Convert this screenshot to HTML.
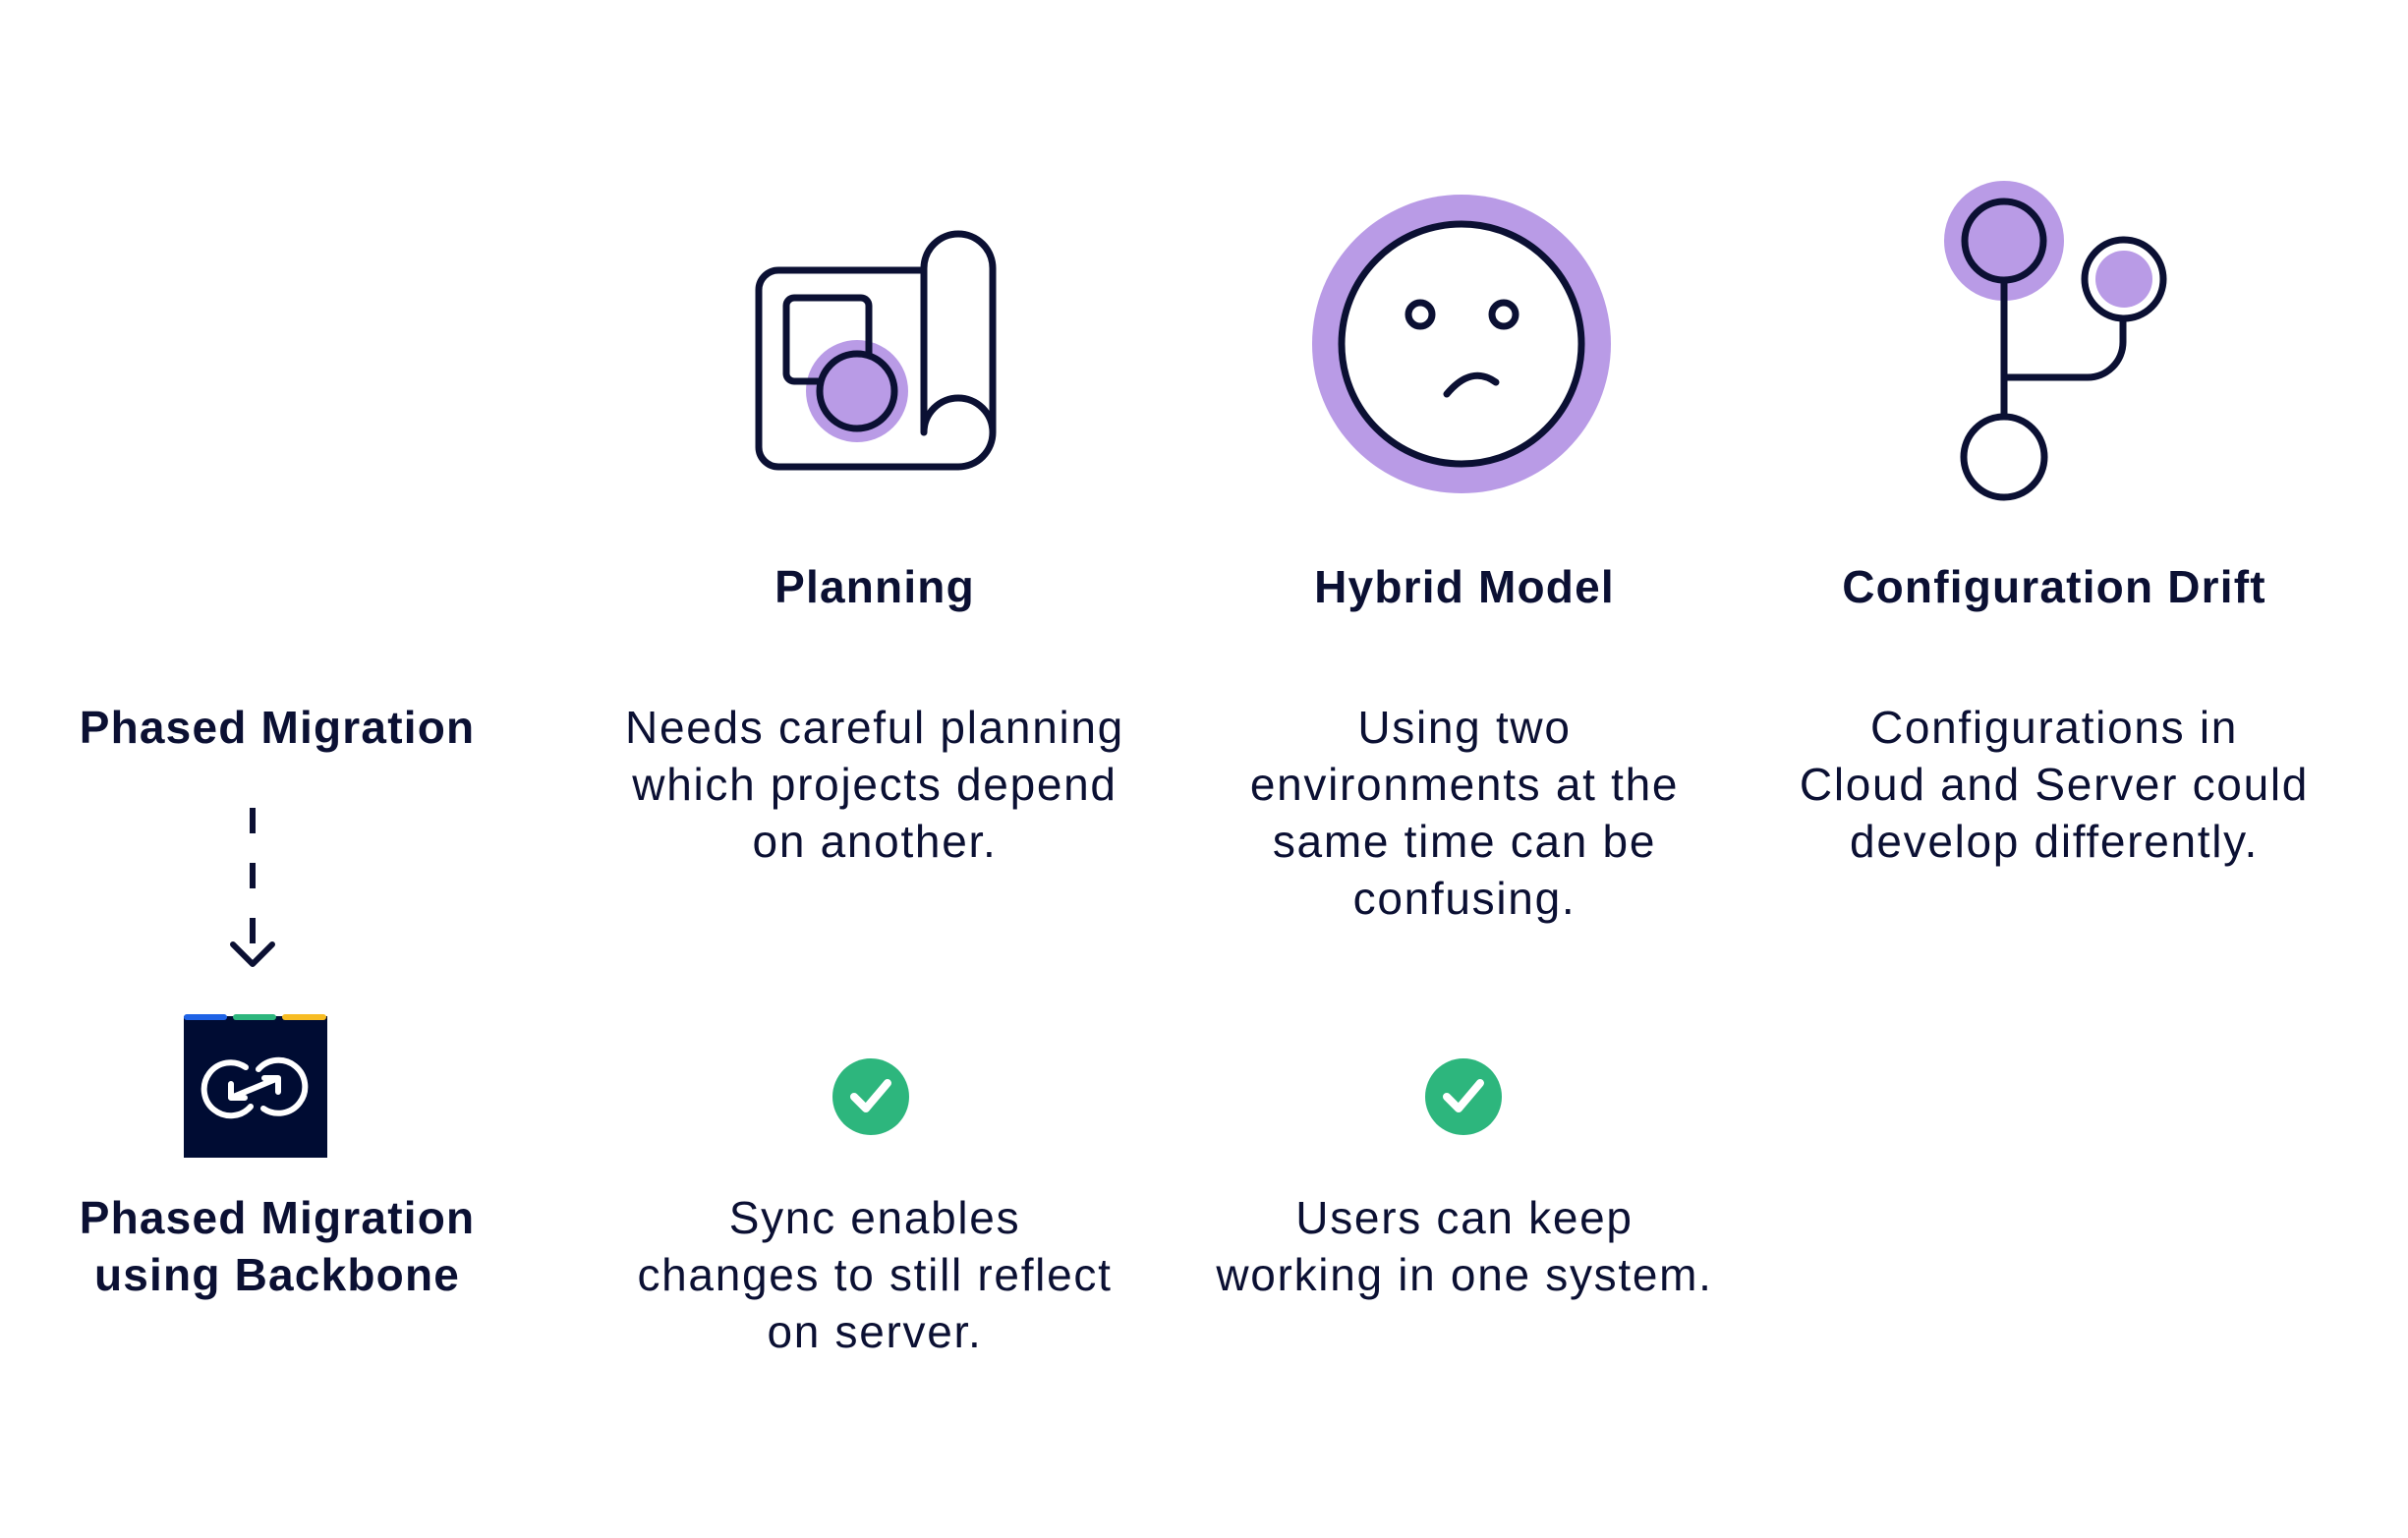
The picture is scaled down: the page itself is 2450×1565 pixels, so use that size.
<!DOCTYPE html>
<html><head><meta charset="utf-8"><style>
html,body{margin:0;padding:0;background:#fff;}
body{width:2450px;height:1565px;position:relative;overflow:hidden;font-family:"Liberation Sans",sans-serif;color:#0b1033;}
.t{position:absolute;text-align:center;font-size:46px;line-height:58px;width:800px;letter-spacing:1.7px;}
.b{font-weight:bold;letter-spacing:1.2px;}
</style></head><body>
<svg width="2450" height="1565" style="position:absolute;left:0;top:0" fill="none" stroke="#0b1033" stroke-width="7" stroke-linecap="round" stroke-linejoin="round">
<circle cx="872" cy="398" r="52" fill="#b99be6" stroke="none"/>
<path d="M940 275 H792 a20 20 0 0 0 -20 20 V455 a20 20 0 0 0 20 20 H975 a35 35 0 0 0 35 -35 V273 a35 35 0 0 0 -70 0 V440 a35 35 0 0 1 70 0"/>
<path d="M884 386 V311 a8 8 0 0 0 -8 -8 H808 a8 8 0 0 0 -8 8 V380 a8 8 0 0 0 8 8 H834"/>
<circle cx="872" cy="398" r="38" fill="#b99be6"/>
<g transform="translate(-8,-2)">
<circle cx="1495" cy="352" r="152" fill="#b99be6" stroke="none"/>
<circle cx="1495" cy="352" r="122" fill="#fff"/>
<circle cx="1453" cy="322" r="12"/>
<circle cx="1538" cy="322" r="12"/>
<path d="M1480 403 q25 -30 50 -12"/>
</g>
<g transform="translate(-9,0)">
<circle cx="2048" cy="245" r="61" fill="#b99be6" stroke="none"/>
<circle cx="2048" cy="245" r="40" fill="#b99be6"/>
<path d="M2048 285 V424 M2048 384 H2133 a36 36 0 0 0 36 -36 V326"/>
<circle cx="2170" cy="284" r="40" fill="#fff"/>
<circle cx="2170" cy="284" r="29" fill="#b99be6" stroke="none"/>
<circle cx="2048" cy="465" r="41" fill="#fff"/>
</g>
<path d="M257 822 V975" stroke-dasharray="26 30" stroke-linecap="butt" stroke-width="6"/>
<path d="M237 961 L257 981 L277 961" stroke-width="6"/>
<rect x="187" y="1034" width="146" height="144" fill="#000c33" stroke="none"/>
<rect x="187" y="1032" width="44" height="6" rx="3" fill="#1f63e6" stroke="none"/>
<rect x="237" y="1032" width="44" height="6" rx="3" fill="#2db67d" stroke="none"/>
<rect x="287" y="1032" width="45" height="6" rx="3" fill="#f7bc23" stroke="none"/>
<g stroke="#fff" stroke-width="6">
<path d="M250 1086 a27 27 0 1 0 5 40 M268 1128 a27 27 0 1 0 -5 -40"/>
<path d="M283 1097 L235 1117 M235 1117 h14 M235 1117 v-14 M283 1097 h-14 M283 1097 v14"/>
</g>
<circle cx="886" cy="1116" r="39" fill="#2db67d" stroke="none"/>
<path d="M869 1116 l12 12 l22 -26" stroke="#fff" stroke-width="8"/>
<circle cx="1489" cy="1116" r="39" fill="#2db67d" stroke="none"/>
<path d="M1472 1116 l12 12 l22 -26" stroke="#fff" stroke-width="8"/>
</svg>
<div class="t b" style="left:490px;top:568px">Planning</div>
<div class="t b" style="left:1090px;top:568px">Hybrid Model</div>
<div class="t b" style="left:1690px;top:568px">Configuration Drift</div>
<div class="t b" style="left:-118px;top:711px">Phased Migration</div>
<div class="t" style="left:490px;top:711px">Needs careful planning<br>which projects depend<br>on another.</div>
<div class="t" style="left:1090px;top:711px">Using two<br>environments at the<br>same time can be<br>confusing.</div>
<div class="t" style="left:1690px;top:711px">Configurations in<br>Cloud and Server could<br>develop differently.</div>
<div class="t b" style="left:-118px;top:1210px">Phased Migration<br>using Backbone</div>
<div class="t" style="left:490px;top:1210px">Sync enables<br>changes to still reflect<br>on server.</div>
<div class="t" style="left:1090px;top:1210px">Users can keep<br>working in one system.</div>
</body></html>
